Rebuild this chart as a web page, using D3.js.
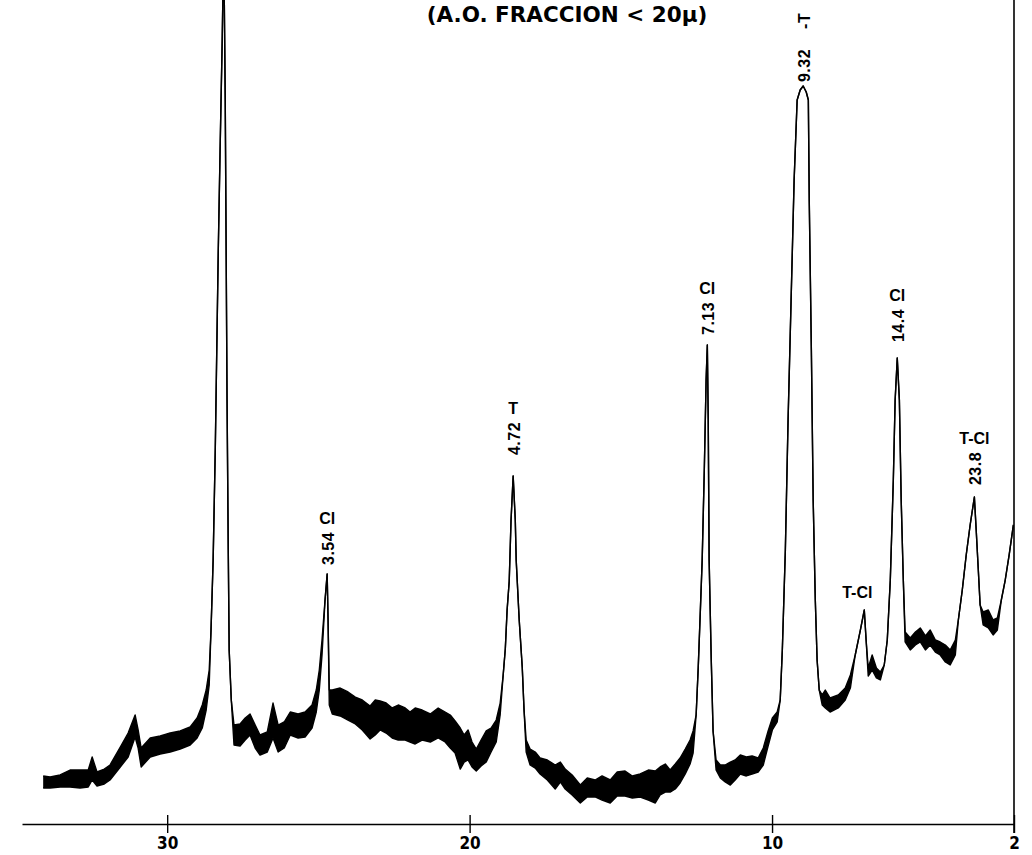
<!DOCTYPE html>
<html>
<head>
<meta charset="utf-8">
<script src="https://cdn.jsdelivr.net/npm/d3@7"></script>
<style>
  body { margin: 0; background: #fff; }
  svg { display: block; }
</style>
</head>
<body>
<svg id="chart" width="1032" height="855"></svg>
<script>
// X-ray diffractogram, oriented aggregate (fraction < 20 µm).
// 2θ in degrees; intensity in % of full recorder scale.
// Where the recorder trace is noisy, "upper" and "lower" give the envelope of the pen band.
const twoTheta = [
  34.10, 33.87, 33.54, 33.21, 32.88, 32.61, 32.48, 32.32, 32.08, 31.89,
  31.55, 31.29, 31.06, 30.96, 30.86, 30.56, 30.23, 29.90, 29.57, 29.24,
  29.01, 28.84, 28.71, 28.61, 28.55, 28.48, 28.41, 28.35, 28.31, 28.25,
  28.18, 28.13, 28.08, 28.05, 28.02, 27.98, 27.95, 27.88, 27.79, 27.59,
  27.42, 27.26, 27.09, 26.93, 26.69, 26.50, 26.33, 26.13, 25.93, 25.67,
  25.44, 25.21, 25.07, 24.97, 24.88, 24.78, 24.71, 24.68, 24.64, 24.54,
  24.28, 24.02, 23.78, 23.55, 23.29, 23.12, 22.96, 22.76, 22.56, 22.36,
  22.13, 21.97, 21.80, 21.57, 21.30, 21.04, 20.81, 20.64, 20.48, 20.31,
  20.18, 20.05, 19.92, 19.78, 19.62, 19.45, 19.29, 19.12, 18.99, 18.89,
  18.82, 18.76, 18.69, 18.63, 18.56, 18.49, 18.46, 18.36, 18.26, 18.20,
  18.13, 18.00, 17.83, 17.67, 17.43, 17.17, 17.00, 16.84, 16.61, 16.34,
  16.11, 15.85, 15.62, 15.35, 15.12, 14.86, 14.62, 14.36, 14.09, 13.86,
  13.70, 13.53, 13.37, 13.20, 13.04, 12.87, 12.71, 12.61, 12.51, 12.44,
  12.37, 12.31, 12.24, 12.18, 12.14, 12.11, 12.08, 12.01, 11.95, 11.85,
  11.71, 11.55, 11.38, 11.22, 11.05, 10.85, 10.66, 10.46, 10.29, 10.13,
  9.99, 9.83, 9.73, 9.66, 9.56, 9.47, 9.37, 9.27, 9.17, 9.07,
  8.97, 8.87, 8.80, 8.77, 8.70, 8.64, 8.57, 8.51, 8.44, 8.34,
  8.24, 8.08, 7.81, 7.58, 7.41, 7.25, 7.08, 6.95, 6.89, 6.82,
  6.69, 6.55, 6.42, 6.29, 6.19, 6.09, 5.99, 5.93, 5.86, 5.79,
  5.73, 5.66, 5.60, 5.43, 5.26, 5.10, 4.93, 4.77, 4.60, 4.44,
  4.27, 4.11, 3.94, 3.84, 3.71, 3.58, 3.45, 3.31, 3.25, 3.18,
  3.12, 3.02, 2.85, 2.69, 2.55, 2.42, 2.29, 2.16, 2.02
];
const upper = [
  5.83, 5.70, 5.95, 6.55, 6.55, 6.55, 8.13, 6.31, 6.67, 7.16,
  9.34, 11.04, 13.23, 11.41, 9.22, 10.44, 10.68, 11.04, 11.29, 11.77,
  12.86, 14.44, 16.26, 18.69, 23.54, 32.04, 45.39, 59.95, 69.66, 81.80,
  95.15, 107.3, 87.86, 69.66, 51.46, 33.25, 21.12, 15.05, 12.01, 12.14,
  12.86, 13.35, 12.01, 10.80, 11.17, 14.68, 12.01, 12.38, 13.59, 13.35,
  13.59, 14.44, 16.26, 18.69, 22.33, 27.18, 30.34, 24.76, 16.26, 16.26,
  16.50, 16.02, 15.41, 15.05, 14.32, 15.05, 14.93, 14.68, 14.08, 14.44,
  14.08, 13.59, 14.08, 13.83, 13.35, 14.08, 13.59, 13.23, 12.50, 11.65,
  10.80, 11.41, 9.95, 9.10, 10.19, 11.29, 11.65, 12.62, 14.68, 18.08,
  21.24, 25.97, 29.49, 36.89, 42.23, 36.89, 32.04, 24.76, 19.05, 13.83,
  10.19, 9.10, 8.74, 8.01, 7.77, 7.16, 7.52, 6.67, 5.95, 4.73,
  5.58, 5.34, 5.83, 5.34, 6.31, 6.43, 5.83, 6.07, 6.55, 6.43,
  6.92, 7.28, 6.55, 7.28, 8.01, 9.10, 10.19, 11.29, 13.23, 19.05,
  25.97, 32.04, 42.96, 53.88, 58.13, 49.03, 32.04, 19.90, 11.29, 7.77,
  7.16, 7.16, 7.52, 7.77, 8.37, 8.13, 8.25, 8.01, 9.22, 11.29,
  12.86, 13.59, 15.05, 21.12, 33.25, 49.03, 63.59, 78.16, 87.86, 89.08,
  89.56, 88.83, 87.86, 75.73, 57.52, 39.32, 27.18, 19.90, 16.26, 15.66,
  16.26, 15.29, 15.66, 16.50, 18.08, 20.51, 23.54, 25.97, 22.33, 18.93,
  20.51, 18.93, 18.45, 19.30, 22.33, 29.61, 41.75, 51.46, 56.55, 51.46,
  39.32, 29.61, 23.30, 22.57, 23.30, 23.79, 22.82, 23.54, 22.33, 22.09,
  21.72, 21.12, 22.33, 24.76, 28.40, 32.65, 36.29, 39.68, 35.68, 30.83,
  26.58, 25.73, 25.97, 24.76, 25.00, 27.18, 29.61, 32.65, 36.29
];
const lower = [
  4.37, 4.37, 4.49, 4.49, 4.37, 4.49, 5.34, 4.61, 4.85, 5.34,
  6.92, 8.13, 10.56, 9.22, 6.92, 8.13, 8.50, 8.74, 9.10, 9.59,
  10.44, 11.65, 13.83, 16.87, 23.54, 32.04, 45.39, 59.95, 69.66, 81.80,
  95.15, 107.3, 87.86, 69.66, 51.46, 33.25, 21.12, 15.05, 9.59, 9.47,
  10.19, 10.80, 9.22, 8.37, 8.74, 10.44, 8.74, 9.22, 10.80, 10.44,
  10.56, 11.65, 13.59, 16.26, 20.51, 27.18, 30.34, 24.76, 14.44, 13.35,
  13.11, 12.62, 12.14, 11.41, 10.32, 10.80, 11.41, 11.04, 10.44, 10.19,
  10.19, 9.95, 9.71, 10.19, 9.95, 10.44, 9.95, 9.22, 8.62, 6.67,
  7.52, 7.77, 6.92, 6.43, 7.04, 7.52, 8.74, 9.95, 13.23, 18.08,
  21.24, 25.97, 29.49, 36.89, 42.23, 36.89, 32.04, 24.76, 19.05, 13.83,
  8.74, 7.16, 6.79, 6.07, 5.34, 4.25, 5.10, 4.25, 3.52, 2.55,
  3.28, 3.28, 2.91, 2.55, 3.40, 3.40, 3.16, 3.28, 2.91, 2.55,
  3.52, 3.88, 3.88, 4.25, 4.98, 6.07, 7.28, 8.62, 13.23, 19.05,
  25.97, 32.04, 42.96, 53.88, 58.13, 49.03, 32.04, 19.90, 11.29, 6.55,
  5.58, 5.10, 4.73, 5.34, 6.07, 5.83, 6.07, 6.31, 7.16, 9.47,
  11.41, 12.38, 15.05, 21.12, 33.25, 49.03, 63.59, 78.16, 87.86, 89.08,
  89.56, 88.83, 87.86, 75.73, 57.52, 39.32, 27.18, 19.90, 16.26, 14.44,
  14.08, 13.59, 14.08, 15.05, 16.50, 20.51, 23.54, 25.97, 22.33, 17.96,
  18.69, 17.72, 17.48, 19.30, 22.33, 29.61, 41.75, 51.46, 56.55, 51.46,
  39.32, 29.61, 22.09, 21.12, 21.72, 22.09, 21.12, 21.72, 20.87, 20.51,
  19.66, 19.30, 20.51, 24.76, 28.40, 32.65, 36.29, 39.68, 35.68, 30.83,
  26.58, 24.15, 23.79, 22.94, 23.54, 27.18, 29.61, 32.65, 36.29
];

// Axis ticks (2θ, degrees)
const tickValues = [30, 20, 10, 2];

// Peak annotations: 2θ of the peak, d-spacing (Å), trailing note and mineral
const peakTheta   = [24.71, 18.56, 12.14, 8.97, 5.86, 3.31];
const peakSpacing = ["3.54", "4.72", "7.13", "9.32", "14.4", "23.8"];
const peakNote    = ["", "", "", "-T", "", ""];
const peakMineral = ["Cl", "T", "Cl", "", "Cl", "T-Cl"];
// Unnumbered reflection marked only by mineral
const minorTheta = [6.95];
const minorMineral = ["T-Cl"];

const title = "(A.O. FRACCION < 20\u03BC)";

const svg = d3.select("#chart");

const x = d3.scaleLinear().domain([34.8, 2]).range([22, 1014]);
const y = d3.scaleLinear().domain([0, 100]).range([824, 0]);

const trace = twoTheta.map((t, i) => ({ t, hi: upper[i], lo: lower[i] }));

// Pen band (filled envelope) and its edges
svg.append("path")
  .datum(trace)
  .attr("fill", "#000")
  .attr("d", d3.area().x(d => x(d.t)).y0(d => y(d.lo)).y1(d => y(d.hi)));

["hi", "lo"].forEach(k => {
  svg.append("path")
    .datum(trace)
    .attr("fill", "none")
    .attr("stroke", "#000")
    .attr("stroke-width", 1.4)
    .attr("stroke-linejoin", "round")
    .attr("d", d3.line().x(d => x(d.t)).y(d => y(d[k])));
});

// Bottom 2θ axis
const axis = svg.append("g")
  .attr("transform", `translate(0,${y(0)})`)
  .call(d3.axisBottom(x).tickValues(tickValues).tickSizeInner(9).tickSizeOuter(0).tickPadding(4).tickFormat(d3.format("d")));
axis.select(".domain").attr("stroke", "#000").attr("stroke-width", 1.6);
axis.selectAll(".tick line").attr("y1", -9).attr("stroke", "#000").attr("stroke-width", 1.4);
axis.selectAll(".tick text")
  .attr("fill", "#000")
  .style("font-family", "'Liberation Sans Narrow', 'DejaVu Sans Condensed', sans-serif")
  .style("font-weight", "bold")
  .style("font-size", "17px");

// Right-hand limit line at 2° 2θ
svg.append("line")
  .attr("x1", x(2)).attr("x2", x(2))
  .attr("y1", 0).attr("y2", y(0) + 9)
  .attr("stroke", "#000").attr("stroke-width", 1.6);

// Title
svg.append("text")
  .attr("x", 567).attr("y", 22)
  .attr("text-anchor", "middle")
  .style("font-family", "'DejaVu Sans', sans-serif")
  .style("font-weight", "bold")
  .style("font-size", "21.5px")
  .text(title);

// Peak labels: d-spacing written upward from the peak, mineral above it
const labelFont = "'Liberation Sans', 'DejaVu Sans', sans-serif";
const gaps = [9, 21, 10, 4, 16, 12];
function peakValue(t) {
  let best = 0;
  twoTheta.forEach((v, i) => { if (Math.abs(v - t) < Math.abs(twoTheta[best] - t)) best = i; });
  return upper[best];
}
peakTheta.forEach((t, i) => {
  const px = x(t), py = Math.max(y(peakValue(t)), 0);
  const txt = svg.append("text")
    .attr("transform", `translate(${px + 1},${py - gaps[i]}) rotate(-90)`)
    .attr("dy", "0.35em")
    .style("font-family", labelFont)
    .style("font-weight", "bold")
    .style("font-size", "16px")
    .style("letter-spacing", "0.5px")
    .text(peakSpacing[i]);
  if (peakNote[i]) {
    txt.append("tspan").attr("dx", 20).text(peakNote[i]);
  }
  const len = txt.node().getComputedTextLength();
  if (peakMineral[i]) {
    svg.append("text")
      .attr("x", px).attr("y", py - gaps[i] - len - 8)
      .attr("text-anchor", "middle")
      .style("font-family", labelFont)
      .style("font-weight", "bold")
      .style("font-size", "16px")
      .text(peakMineral[i]);
  }
});
minorTheta.forEach((t, i) => {
  svg.append("text")
    .attr("x", x(t) - 7).attr("y", y(peakValue(t)) - 12)
    .attr("text-anchor", "middle")
    .style("font-family", labelFont)
    .style("font-weight", "bold")
    .style("font-size", "16px")
    .text(minorMineral[i]);
});
</script>
</body>
</html>
